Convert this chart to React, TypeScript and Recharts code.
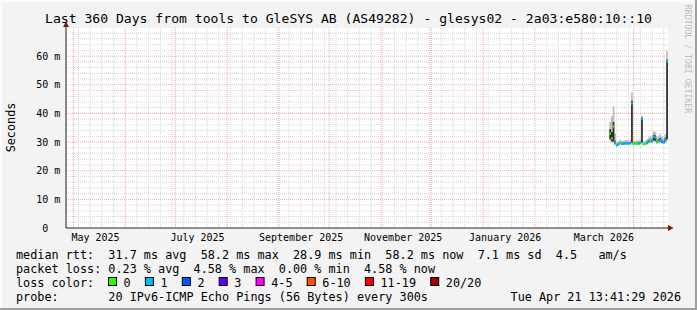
import React from 'react';
import { ComposedChart, Area, Scatter, XAxis, YAxis, CartesianGrid, ReferenceDot } from 'recharts';

// ---------- data ----------
const dates = [
  '2026-03-18', '2026-03-19', '2026-03-20', '2026-03-21', '2026-03-22', '2026-03-23', '2026-03-24',
  '2026-03-25', '2026-03-26', '2026-03-27', '2026-03-28', '2026-03-29', '2026-03-30', '2026-03-31',
  '2026-04-01', '2026-04-02', '2026-04-03', '2026-04-04', '2026-04-05', '2026-04-06', '2026-04-07',
  '2026-04-08', '2026-04-09', '2026-04-10', '2026-04-11', '2026-04-12', '2026-04-13', '2026-04-14',
  '2026-04-15', '2026-04-16', '2026-04-17', '2026-04-18', '2026-04-19', '2026-04-20', '2026-04-21',
];
const medianMs = [
  33.0, 31.3, 35.5, 29.6, 28.9, 29.3, 29.7,
  29.4, 29.5, 29.5, 29.6, 29.5, 29.6, 43.5,
  29.4, 29.5, 29.6, 29.5, 29.7, 38.2, 29.3,
  29.4, 29.8, 30.2, 30.6, 30.3, 31.9, 31.6,
  30.0, 30.4, 30.7, 30.2, 29.9, 30.8, 58.2,
];
const minMs = [
  30.5, 29.9, 29.8, 29.0, 28.5, 28.9, 29.2,
  29.0, 29.1, 29.0, 29.1, 29.1, 29.2, 29.4,
  29.0, 29.1, 29.1, 29.0, 29.2, 29.5, 28.9,
  29.0, 29.2, 29.5, 29.8, 29.6, 30.0, 29.9,
  29.4, 29.6, 29.8, 29.5, 29.3, 29.8, 30.5,
];
const p25Ms = [
  31.0, 30.3, 30.2, 29.3, 28.7, 29.1, 29.4,
  29.2, 29.3, 29.3, 29.4, 29.3, 29.4, 29.8,
  29.2, 29.3, 29.4, 29.3, 29.5, 29.9, 29.1,
  29.2, 29.5, 29.9, 30.2, 30.0, 30.6, 30.5,
  29.7, 30.0, 30.2, 29.9, 29.6, 30.2, 31.0,
];
const p75Ms = [
  34.5, 33.5, 37.0, 30.3, 29.2, 29.6, 30.0,
  29.7, 29.8, 29.8, 29.9, 29.8, 29.9, 44.4,
  29.7, 29.8, 29.9, 29.8, 30.0, 38.6, 29.6,
  29.7, 30.1, 30.6, 31.0, 30.8, 32.6, 32.3,
  30.5, 31.0, 31.4, 30.7, 30.4, 31.5, 58.8,
];
const maxMs = [
  37.0, 39.0, 42.5, 33.0, 29.8, 30.3, 30.8,
  30.4, 30.5, 30.6, 30.8, 30.4, 30.7, 47.3,
  30.3, 30.4, 30.6, 30.5, 30.9, 39.2, 30.2,
  30.4, 31.0, 31.6, 32.2, 31.8, 33.8, 33.5,
  31.6, 32.3, 33.0, 31.9, 31.2, 32.8, 61.8,
];
// loss colour bucket per day (0 = no loss, 1 = one ping lost)
const lossBucket = [
  0, 0, 0, 1, 1, 1, 0,
  1, 1, 1, 1, 1, 1, 1,
  0, 0, 0, 1, 1, 1, 0,
  0, 1, 1, 0, 1, 1, 1,
  0, 1, 1, 1, 1, 1, 1,
];

const yTicks = [0, 10, 20, 30, 40, 50, 60];
const monthLabelStarts = ['2025-05-01', '2025-07-01', '2025-09-01', '2025-11-01', '2026-01-01', '2026-03-01'];
const monthLabelNames = ['May 2025', 'July 2025', 'September 2025', 'November 2025', 'January 2026', 'March 2026'];

const lossLabels = ['0', '1', '2', '3', '4-5', '6-10', '11-19', '20/20'];
const lossColors = ['#26ff00', '#00b8ff', '#0059ff', '#5e00ff', '#ff00ff', '#ff5500', '#ff0000', '#a00000'];

const titleText = 'Last 360 Days from tools to GleSYS AB (AS49282) - glesys02 - 2a03:e580:10::10';
const statLine1 = 'median rtt:  31.7 ms avg  58.2 ms max  28.9 ms min  58.2 ms now  7.1 ms sd  4.5   am/s';
const statLine2 = 'packet loss: 0.23 % avg  4.58 % max  0.00 % min  4.58 % now';
const statLine3 = 'loss color:';
const statLine4 = 'probe:       20 IPv6-ICMP Echo Pings (56 Bytes) every 300s';
const stampText = 'Tue Apr 21 13:41:29 2026';

// ---------- layout ----------
const W = 697;
const H = 310;
const PLOT_L = 66;
const PLOT_R = 668;
const PLOT_T = 28;
const PLOT_B = 228;
const DAY = 86400000;
const T_END = Date.UTC(2026, 3, 21, 13, 41, 29);
const T_START = T_END - 360 * DAY;
const Y_MAX = 69.84;
const DAY_PX = (PLOT_R - PLOT_L) / 360;
const MONO = '"DejaVu Sans Mono", monospace';
const LEG_FS = 11.8;
const CH = 7.1;

const parseDay = (s: string) => {
  const [y, m, d] = s.split('-').map(Number);
  return Date.UTC(y, m - 1, d);
};

const rows = dates.map((d, i) => ({
  t: parseDay(d) - DAY / 2,
  median: medianMs[i],
  min: minMs[i],
  p25: p25Ms[i],
  p75: p75Ms[i],
  max: maxMs[i],
  loss: lossBucket[i],
}));
const lastRow = rows[rows.length - 1];
const areaRows = [...rows, { ...lastRow, t: lastRow.t + DAY }];

// grid positions
const monthStarts: number[] = [];
{
  let y = 2025;
  let m = 3;
  for (;;) {
    const t = Date.UTC(y, m, 1);
    if (t > T_END) break;
    if (t >= T_START) monthStarts.push(t);
    m++;
    if (m > 11) { m = 0; y++; }
  }
}
const sundays: number[] = [];
{
  let t = Math.ceil(T_START / DAY) * DAY;
  while (new Date(t).getUTCDay() !== 0) t += DAY;
  for (; t <= T_END; t += 7 * DAY) if (!monthStarts.includes(t)) sundays.push(t);
}
const minorY: number[] = [];
const majorY: number[] = [];
for (let v = 2; v < Y_MAX; v += 2) {
  if (v % 10 === 0) majorY.push(v);
  else minorY.push(v);
}
const labelTicks = monthLabelStarts.map((s) => parseDay(s) + 15 * DAY);
const labelName = new Map(labelTicks.map((t, i) => [t, monthLabelNames[i]]));

const XTick = (props: any) => {
  const { x, payload } = props;
  return (
    <text x={x - 3} y={241} textAnchor="middle" fontFamily={MONO} fontSize={10} fill="#000">
      {labelName.get(payload.value)}
    </text>
  );
};

const YTick = (props: any) => {
  const { y, payload } = props;
  const v = payload.value;
  return (
    <g>
      <text x={48.2} y={y + 3.5} textAnchor="end" fontFamily={MONO} fontSize={10} fill="#000">{v}</text>
      {v !== 0 && (
        <text x={54.2} y={y + 3.5} fontFamily={MONO} fontSize={10} fill="#000">m</text>
      )}
    </g>
  );
};

const MedianMark = (props: any) => {
  const { cx, cy, payload } = props;
  if (cx == null || cy == null) return <g />;
  return <rect x={cx} y={cy - 1.25} width={DAY_PX} height={2.5} fill={lossColors[payload.loss]} />;
};

const XArrow = (props: any) => {
  const { cx, cy } = props;
  return <polygon points={`${cx},${cy - 3} ${cx + 5.5},${cy} ${cx},${cy + 3}`} fill="#8e1010" />;
};
const YArrow = (props: any) => {
  const { cx, cy } = props;
  return (
    <g>
      <line x1={cx} y1={cy} x2={cx} y2={cy - 4} stroke="#222" strokeWidth={1} />
      <polygon points={`${cx - 3},${cy - 1} ${cx},${cy - 6.5} ${cx + 3},${cy - 1}`} fill="#8e1010" />
    </g>
  );
};

const legendItems = (() => {
  const out: { box: number; text: number; label: string; color: string }[] = [];
  let bx = 108;
  lossLabels.forEach((label, i) => {
    out.push({ box: bx, text: bx + 15.6, label, color: lossColors[i] });
    bx = bx + 15.6 + label.length * CH + 14.2;
  });
  return out;
})();

const txt = (x: number, y: number, s: string, extra: any = {}) => (
  <text
    x={x}
    y={y}
    fontFamily={MONO}
    fontSize={LEG_FS}
    fill="#000"
    xmlSpace="preserve"
    style={{ whiteSpace: 'pre' }}
    {...extra}
  >
    {s}
  </text>
);

export default function App() {
  return (
    <div
      style={{
        position: 'absolute',
        left: 0,
        top: 0,
        width: W,
        height: H,
        background: '#f3f3f3',
        boxShadow: 'inset -2px -2px 0 #9f9f9f, inset 2px 2px 0 #fcfcfc',
        overflow: 'hidden',
      }}
    >
      <div style={{ position: 'absolute', left: 0, top: 0 }}>
        <ComposedChart
          width={W}
          height={H}
          data={areaRows}
          margin={{ top: PLOT_T, right: W - PLOT_R, bottom: 0, left: 0 }}
        >
          <CartesianGrid
            horizontalValues={minorY}
            verticalValues={sundays}
            stroke="#d6d6d6"
            strokeDasharray="1 1"
            fill="#ffffff"
            fillOpacity={1}
          />
          <CartesianGrid
            horizontalValues={majorY}
            verticalValues={monthStarts}
            stroke="#f0a8a8"
            strokeDasharray="1 1"
          />
          <XAxis
            dataKey="t"
            type="number"
            domain={[T_START, T_END]}
            allowDataOverflow
            ticks={labelTicks}
            interval={0}
            tick={<XTick />}
            tickLine={false}
            axisLine={{ stroke: '#222' }}
            height={H - PLOT_B}
          />
          <YAxis
            type="number"
            domain={[0, Y_MAX]}
            allowDataOverflow
            ticks={yTicks}
            interval={0}
            tick={<YTick />}
            tickLine={false}
            axisLine={{ stroke: '#222' }}
            width={PLOT_L}
          />
          <Area
            dataKey={(d: any) => [d.min, d.max]}
            type="stepAfter"
            stroke="none"
            fill="#bdbdbd"
            fillOpacity={1}
            isAnimationActive={false}
          />
          <Area
            dataKey={(d: any) => [d.p25, d.p75]}
            type="stepAfter"
            stroke="none"
            fill="#2c2c2c"
            fillOpacity={1}
            isAnimationActive={false}
          />
          <Scatter data={rows} dataKey="median" shape={<MedianMark />} isAnimationActive={false} />
          <ReferenceDot x={T_END} y={0} shape={<XArrow />} ifOverflow="visible" />
          <ReferenceDot x={T_START} y={Y_MAX} shape={<YArrow />} ifOverflow="visible" />
        </ComposedChart>
      </div>
      <svg width={W} height={H} style={{ position: 'absolute', left: 0, top: 0, pointerEvents: 'none' }}>
        <text x={348.5} y={22.5} textAnchor="middle" fontFamily={MONO} fontSize={13.1} fill="#000" xmlSpace="preserve" style={{ whiteSpace: 'pre' }}>
          {titleText}
        </text>
        <text
          transform="translate(10.5,127.5) rotate(-90)"
          textAnchor="middle"
          dominantBaseline="central"
          fontFamily={MONO}
          fontSize={LEG_FS}
          fill="#000"
        >
          Seconds
        </text>
        <text
          transform="translate(688,59) rotate(90)"
          textAnchor="middle"
          dominantBaseline="central"
          fontFamily={MONO}
          fontSize={8.2}
          fill="#bdbdbd"
        >
          RRDTOOL / TOBI OETIKER
        </text>
        {txt(16, 259, statLine1)}
        {txt(16, 273, statLine2)}
        {txt(16, 287, statLine3)}
        {legendItems.map((it) => (
          <g key={it.label}>
            <rect x={it.box + 0.5} y={277.5} width={8} height={8} fill={it.color} stroke="#000" strokeWidth={1} />
            {txt(it.text, 287, it.label)}
          </g>
        ))}
        {txt(16, 301, statLine4)}
        {txt(681, 301, stampText, { textAnchor: 'end' })}
      </svg>
    </div>
  );
}
